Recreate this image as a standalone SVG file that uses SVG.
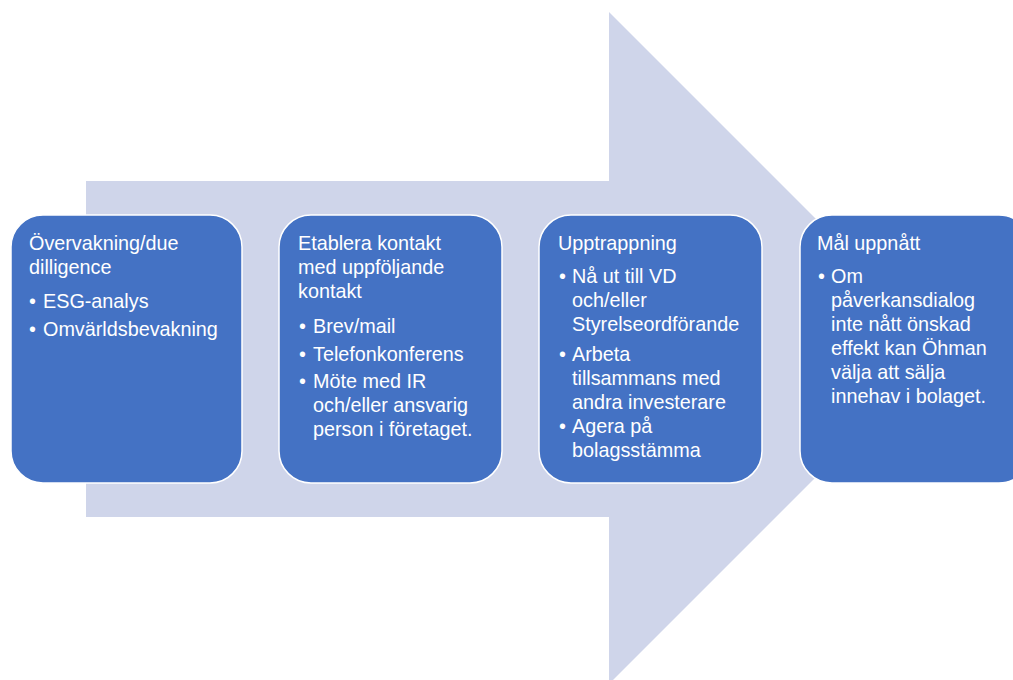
<svg xmlns="http://www.w3.org/2000/svg" width="1013" height="680" viewBox="0 0 1013 680">
<style>
.box{fill:#4472C4;stroke:#FFFFFF;stroke-width:1.5}
.t{font-family:"Liberation Sans",Arial,sans-serif;font-size:19.8px;fill:#FFFFFF}
</style>
<rect width="1013" height="680" fill="#FFFFFF"/>
<g id="arrow">
<polygon points="86,181 609,181 609,12 945,348 609,684 609,517 86,517" fill="#CFD5EA"/>
</g>
<g id="connectors"></g>
<g id="node1">
<rect class="box" x="11" y="215" width="231" height="268" rx="32"/>
<text class="t" x="29" y="250">Övervakning/due</text>
<text class="t" x="29" y="274">dilligence</text>
<text class="t" x="29" y="308">•</text><text class="t" x="43" y="308">ESG-analys</text>
<text class="t" x="29" y="336">•</text><text class="t" x="43" y="336">Omvärldsbevakning</text>
</g>
<g id="node2">
<rect class="box" x="279" y="215" width="223" height="268" rx="32"/>
<text class="t" x="298" y="250">Etablera kontakt</text>
<text class="t" x="298" y="274">med uppföljande</text>
<text class="t" x="298" y="298">kontakt</text>
<text class="t" x="299" y="333">•</text><text class="t" x="313" y="333">Brev/mail</text>
<text class="t" x="299" y="361">•</text><text class="t" x="313" y="361">Telefonkonferens</text>
<text class="t" x="299" y="388">•</text><text class="t" x="313" y="388">Möte med IR</text>
<text class="t" x="313" y="412">och/eller ansvarig</text>
<text class="t" x="313" y="436">person i företaget.</text>
</g>
<g id="node3">
<rect class="box" x="539" y="215" width="223" height="268" rx="32"/>
<text class="t" x="558" y="250">Upptrappning</text>
<text class="t" x="559" y="283">•</text><text class="t" x="572" y="283">Nå ut till VD</text>
<text class="t" x="572" y="307">och/eller</text>
<text class="t" x="572" y="331">Styrelseordförande</text>
<text class="t" x="559" y="361">•</text><text class="t" x="572" y="361">Arbeta</text>
<text class="t" x="572" y="385">tillsammans med</text>
<text class="t" x="572" y="409">andra investerare</text>
<text class="t" x="559" y="433">•</text><text class="t" x="572" y="433">Agera på</text>
<text class="t" x="572" y="457">bolagsstämma</text>
</g>
<g id="node4">
<rect class="box" x="800" y="215" width="231" height="268" rx="32"/>
<text class="t" x="817" y="250">Mål uppnått</text>
<text class="t" x="818" y="283">•</text><text class="t" x="831" y="283">Om</text>
<text class="t" x="831" y="307">påverkansdialog</text>
<text class="t" x="831" y="331">inte nått önskad</text>
<text class="t" x="831" y="355">effekt kan Öhman</text>
<text class="t" x="831" y="379">välja att sälja</text>
<text class="t" x="831" y="403">innehav i bolaget.</text>
</g>
</svg>
